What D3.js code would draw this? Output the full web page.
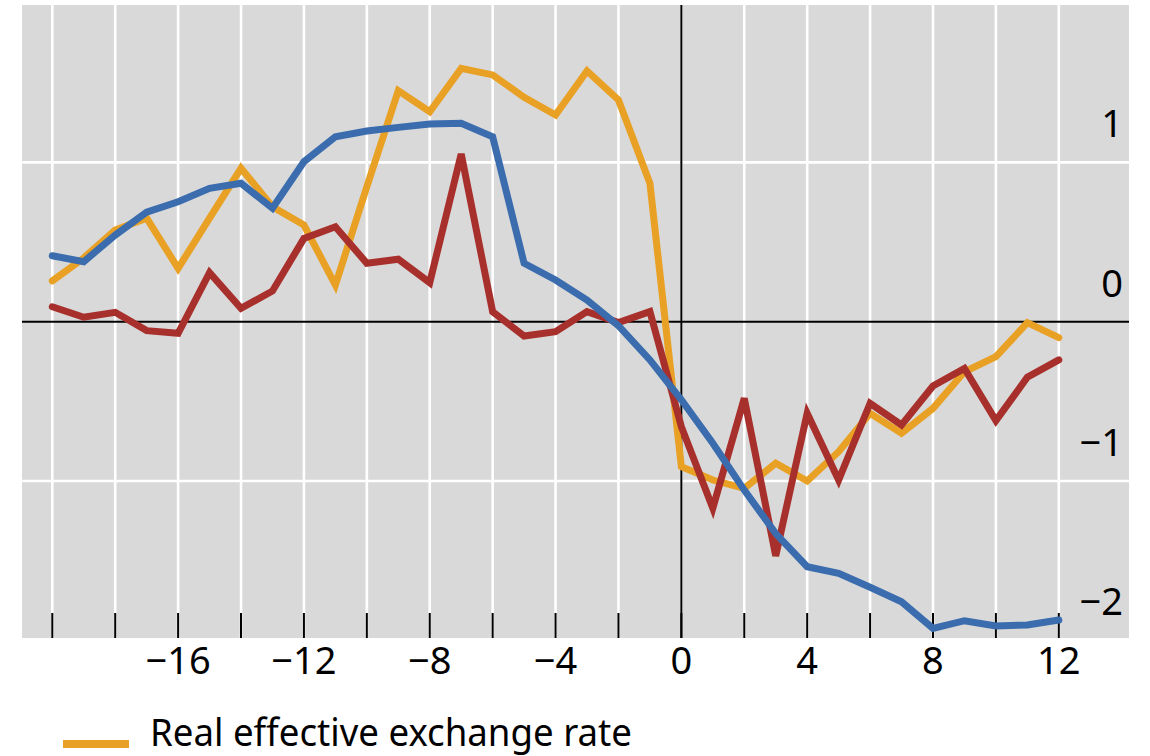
<!DOCTYPE html>
<html>
<head>
<meta charset="utf-8">
<script src="https://cdn.jsdelivr.net/npm/d3@7"></script>
<style>
  html, body { margin: 0; padding: 0; background: #ffffff; }
  svg { display: block; }
  text { font-family: "Noto Sans", "Open Sans", sans-serif; fill: #000; }
</style>
</head>
<body>
<div id="chart"></div>
<script>
// Quarters relative to the event (t = 0)
const quarters = d3.range(-20, 13);

// Real effective exchange rate
const reer = [0.256, 0.40, 0.576, 0.65, 0.335, 0.65, 0.963, 0.722, 0.607, 0.23, 0.847,
  1.45, 1.318, 1.59, 1.549, 1.409, 1.298, 1.574, 1.392, 0.869,
  -0.91, -0.994, -1.046, -0.889, -1.0, -0.816, -0.575, -0.70, -0.544, -0.314, -0.22, -0.006, -0.10];

// Second series (blue)
const blueSeries = [0.414, 0.377, 0.544, 0.687, 0.753, 0.837, 0.869, 0.712, 1.004, 1.161, 1.197,
  1.22, 1.241, 1.245, 1.161, 0.367, 0.262, 0.136, -0.025, -0.24,
  -0.49, -0.763, -1.057, -1.33, -1.538, -1.58, -1.667, -1.758, -1.925, -1.877, -1.91, -1.904, -1.873];

// Third series (red)
const redSeries = [0.094, 0.028, 0.059, -0.056, -0.073, 0.308, 0.084, 0.193, 0.523, 0.596, 0.367,
  0.392, 0.245, 1.053, 0.063, -0.09, -0.063, 0.063, -0.006, 0.063,
  -0.659, -1.171, -0.481, -1.47, -0.575, -0.994, -0.512, -0.648, -0.404, -0.293, -0.621, -0.349, -0.24];

const xGridValues = d3.range(-20, 13, 2);
const xLabelValues = [-16, -12, -8, -4, 0, 4, 8, 12];
const yGridValues = [1, -1];
const yLabelValues = [1, 0, -1, -2];
const legendLabels = ["Real effective exchange rate"];

const W = 1150, H = 756;
const plot = { left: 22, right: 1129, top: 5, bottom: 638 };

const svg = d3.select("#chart").append("svg")
  .attr("width", W).attr("height", H);

const x = d3.scaleLinear().domain([-20, 12]).range([52.3, 1058.8]);
const y = d3.scaleLinear().domain([-2, 2]).range([640.3, 3.1]);

const fmt = v => (v < 0 ? "\u2212" + Math.abs(v) : String(v));

// Panel background
svg.append("rect")
  .attr("x", plot.left).attr("y", plot.top)
  .attr("width", plot.right - plot.left).attr("height", plot.bottom - plot.top)
  .attr("fill", "#d9d9d9");

// White grid
svg.append("g").selectAll("line").data(xGridValues).join("line")
  .attr("x1", d => x(d)).attr("x2", d => x(d))
  .attr("y1", plot.top).attr("y2", plot.bottom)
  .attr("stroke", "#ffffff").attr("stroke-width", 2.6);

svg.append("g").selectAll("line").data(yGridValues).join("line")
  .attr("x1", plot.left).attr("x2", plot.right)
  .attr("y1", d => y(d)).attr("y2", d => y(d))
  .attr("stroke", "#ffffff").attr("stroke-width", 2.6);

// Zero axes
svg.append("line")
  .attr("x1", plot.left).attr("x2", plot.right)
  .attr("y1", y(0)).attr("y2", y(0))
  .attr("stroke", "#000").attr("stroke-width", 2);
svg.append("line")
  .attr("x1", x(0)).attr("x2", x(0))
  .attr("y1", plot.top).attr("y2", plot.bottom)
  .attr("stroke", "#000").attr("stroke-width", 2);

// Inward tick marks along the bottom edge
svg.append("g").selectAll("line").data(xGridValues).join("line")
  .attr("x1", d => x(d)).attr("x2", d => x(d))
  .attr("y1", plot.bottom - 25).attr("y2", plot.bottom)
  .attr("stroke", "#000").attr("stroke-width", 2);

// X labels
svg.append("g").selectAll("text").data(xLabelValues).join("text")
  .attr("x", d => x(d)).attr("y", 674)
  .attr("text-anchor", "middle")
  .attr("font-size", 38)
  .text(fmt);

// Y labels, right side inside the panel, above each level
svg.append("g").selectAll("text").data(yLabelValues).join("text")
  .attr("x", 1123).attr("y", d => y(d) - 25)
  .attr("text-anchor", "end")
  .attr("font-size", 38)
  .text(fmt);

// Series lines
const line = d3.line()
  .x((d, i) => x(quarters[i]))
  .y(d => y(d));

const series = [
  { values: reer, color: "#e9a125" },
  { values: redSeries, color: "#a8302c" },
  { values: blueSeries, color: "#3a6cae" }
];

svg.append("g").selectAll("path").data(series).join("path")
  .attr("d", d => line(d.values))
  .attr("fill", "none")
  .attr("stroke", d => d.color)
  .attr("stroke-width", 7)
  .attr("stroke-linecap", "round");

// Legend
const legend = svg.append("g");
legend.append("rect")
  .attr("x", 63).attr("y", 740).attr("width", 66).attr("height", 8)
  .attr("fill", "#e9a125");
legend.append("text")
  .attr("x", 150).attr("y", 746)
  .attr("font-size", 38)
  .attr("textLength", 482)
  .attr("lengthAdjust", "spacingAndGlyphs")
  .text(legendLabels[0]);
</script>
</body>
</html>
